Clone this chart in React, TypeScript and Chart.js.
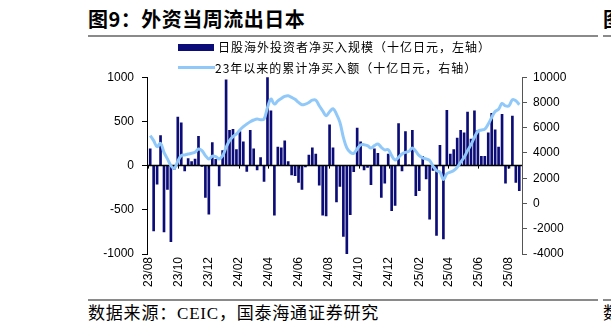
import React, { useEffect, useRef } from 'react';
import { Chart, registerables } from 'chart.js';

Chart.register(...registerables);

// Weekly net purchases of Japanese equities by foreign investors (bn JPY, left axis)
const netBuy = [
  190, -740, -210, 340, -750, -270, -860, -40, 550, 485, -60, 80, 45, 75, 330, -10, -360, -550, 260, 70, -230, 170,
  970, 400, 410, 180, 385, 270, -65, 400, 190, -50, 90, -180, 1000, 620, -560, 210, 200, 280, 45, -105, -115,
  -190, -270, -15, 120, 200, 130, -220, -560, -570, 460, 200, -410, -235, -800, -1010, -555, -70, 425, 270, -50, -20, -215,
  190, 140, -360, -200, 130, -510, -450, 475, -60, 385, 10, 400, -340, -285, 105, -150, -605, -55, -790, 230, -830, 625,
  130, 180, 310, 400, 370, 605, 300, 620, 400, 105, 105, 370, 590, 405, 210, 580, -200, -30, 560, -190, -285,
];

// Cumulative net purchases since 2023 (bn JPY, right axis)
const cumulative = [
  5370, 4975, 4500, 4765, 4055, 3530, 3000, 2790, 3345, 3790, 3845, 3920, 3975, 4055, 4320, 4185, 3790, 3530, 3740, 3715, 3530, 3790,
  4450, 4975, 5290, 5500, 5820, 6080, 6290, 6475, 6610, 6685, 6630, 6685, 7600, 8260, 7870, 8130, 8315, 8475, 8525, 8395, 8260,
  8000, 7815, 7870, 8000, 8185, 8185, 7735, 7340, 6950, 7260, 7500, 7080, 6420, 5240, 4400, 4055, 3975, 4320, 4635, 4660, 4580, 4400,
  4580, 4710, 4450, 4240, 4265, 3790, 3450, 3660, 3920, 4055, 4130, 4400, 4130, 3790, 3610, 3530, 3400, 2950, 2610, 2480, 1900, 2350,
  2480, 2610, 2870, 3265, 3660, 4185, 4660, 5240, 5710, 5820, 5895, 6290, 6815, 7290, 7470, 7920, 7735, 7735, 8210, 8130, 7815,
];

// First week (week ending date) of the weekly series
const firstWeekEnd = [2023, 8, 5];

// x-axis tick labels (yy/mm)
const xTickLabels = ['23/08', '23/10', '23/12', '24/02', '24/04', '24/06', '24/08', '24/10', '24/12', '25/02', '25/04', '25/06', '25/08'];

const leftTicks = { min: -1000, max: 1000, step: 500 };
const rightTicks = { min: -4000, max: 10000, step: 2000 };

const barLabel = '日股海外投资者净买入规模（十亿日元，左轴）';
const lineLabel = '23年以来的累计净买入额（十亿日元，右轴）';

const dayNum = (y: number, m: number, d: number) => Date.UTC(y, m - 1, d) / 86400000;
const startDay = dayNum(firstWeekEnd[0], firstWeekEnd[1], firstWeekEnd[2]);
const weekDays = netBuy.map((_, i) => startDay + 7 * i);
const tickDays = xTickLabels.map((s) => {
  const [yy, mm] = s.split('/').map(Number);
  return dayNum(2000 + yy, mm, 1);
});

const NAVY = '#0c0c78';
const LIGHT = '#90c9f9';
const FONT = "'Liberation Sans', Arial, sans-serif";
const CJK = "'Noto Sans CJK SC', 'Noto Sans', sans-serif";

const zeroLinePlugin = {
  id: 'zeroLine',
  afterDatasetDraw(chart: any, args: any) {
    if (args.meta.type !== 'bar') return;
    const { ctx, chartArea } = chart;
    const y = chart.scales.y.getPixelForValue(0);
    const xs = chart.scales.x;
    ctx.save();
    ctx.strokeStyle = '#000';
    ctx.lineWidth = 1.5;
    ctx.beginPath();
    ctx.moveTo(chartArea.left, y);
    ctx.lineTo(chartArea.right, y);
    ctx.stroke();
    ctx.lineWidth = 1;
    tickDays.forEach((d) => {
      const px = Math.round(xs.getPixelForValue(d)) + 0.5;
      ctx.beginPath();
      ctx.moveTo(px, y);
      ctx.lineTo(px, y + 3);
      ctx.stroke();
    });
    ctx.restore();
  },
};

function ChartCanvas() {
  const ref = useRef<HTMLCanvasElement | null>(null);
  useEffect(() => {
    if (!ref.current) return;
    const chart = new Chart(ref.current, {
      type: 'bar',
      data: {
        datasets: [
          {
            type: 'line',
            label: lineLabel,
            data: cumulative.map((v, i) => ({ x: weekDays[i], y: v })),
            yAxisID: 'y1',
            borderColor: LIGHT,
            backgroundColor: LIGHT,
            borderWidth: 3,
            pointRadius: 0,
            tension: 0.4,
            order: 0,
          } as any,
          {
            type: 'bar',
            label: barLabel,
            data: netBuy.map((v, i) => ({ x: weekDays[i], y: v })),
            yAxisID: 'y',
            backgroundColor: NAVY,
            borderWidth: 0,
            barThickness: 2,
            order: 1,
          } as any,
        ],
      },
      options: {
        animation: false,
        responsive: false,
        maintainAspectRatio: false,
        layout: { padding: { top: 0, left: 0, right: 0, bottom: 0 } },
        plugins: { legend: { display: false }, tooltip: { enabled: false } },
        scales: {
          x: {
            type: 'linear',
            min: startDay - 6.5,
            max: weekDays[weekDays.length - 1] + 5.5,
            offset: false,
            grid: { display: false, drawTicks: false },
            border: { display: false },
            afterBuildTicks: (s: any) => {
              s.ticks = tickDays.map((v) => ({ value: v }));
            },
            afterFit: (s: any) => {
              s.height = 44;
            },
            ticks: {
              autoSkip: false,
              minRotation: 90,
              maxRotation: 90,
              padding: 3,
              color: '#000',
              font: { family: FONT, size: 12 },
              callback: (_v: any, i: number) => xTickLabels[i],
            },
          } as any,
          y: {
            position: 'left',
            min: leftTicks.min,
            max: leftTicks.max,
            ticks: { stepSize: leftTicks.step, padding: 8, color: '#000', font: { family: FONT, size: 12 }, callback: (v: any) => String(v) },
            grid: { drawOnChartArea: false, tickLength: 5, color: '#000' },
            border: { color: '#000', width: 1 },
            afterFit: (s: any) => {
              s.width = 147;
            },
          } as any,
          y1: {
            position: 'right',
            min: rightTicks.min,
            max: rightTicks.max,
            ticks: { stepSize: rightTicks.step, padding: 6, color: '#000', font: { family: FONT, size: 12 }, callback: (v: any) => String(v) },
            grid: { drawOnChartArea: false, tickLength: 5, color: '#555' },
            border: { color: '#555', width: 1 },
            afterFit: (s: any) => {
              s.width = 89;
            },
          } as any,
        },
      },
      plugins: [zeroLinePlugin],
    });
    return () => chart.destroy();
  }, []);
  return <canvas ref={ref} width={611} height={236} style={{ position: 'absolute', left: 0, top: 62, width: 611, height: 236 }} />;
}

export default function App() {
  const abs = (s: React.CSSProperties): React.CSSProperties => ({ position: 'absolute', ...s });
  return (
    <div style={{ position: 'absolute', left: 0, top: 0, width: 611, height: 332, overflow: 'hidden', background: '#fff' }}>
      <div style={abs({ left: 88, top: 9, fontFamily: CJK, fontWeight: 700, fontSize: 20, lineHeight: '20px', letterSpacing: 0.5, color: '#000', whiteSpace: 'nowrap' })}>
        图9：外资当周流出日本
      </div>
      <div style={abs({ left: 88, top: 35, width: 510, height: 2, background: '#8a8a8a' })} />
      <div style={abs({ left: 603, top: 9, fontFamily: CJK, fontWeight: 700, fontSize: 20, lineHeight: '20px', color: '#000' })}>图</div>
      <div style={abs({ left: 603, top: 35, width: 20, height: 2, background: '#8a8a8a' })} />

      <ChartCanvas />

      <div style={abs({ left: 178, top: 44, width: 36, height: 7, background: NAVY })} />
      <div style={abs({ left: 218, top: 41, fontFamily: CJK, fontSize: 12, lineHeight: '12px', letterSpacing: 1, color: '#000', whiteSpace: 'nowrap' })}>
        {barLabel}
      </div>
      <div style={abs({ left: 178, top: 66, width: 37, height: 3, background: LIGHT })} />
      <div style={abs({ left: 215, top: 62, fontFamily: CJK, fontSize: 12, lineHeight: '12px', letterSpacing: 1, color: '#000', whiteSpace: 'nowrap' })}>
        {lineLabel}
      </div>

      <div style={abs({ left: 88, top: 299, width: 510, height: 2, background: '#8a8a8a' })} />
      <div style={abs({ left: 603, top: 299, width: 20, height: 2, background: '#8a8a8a' })} />
      <div style={abs({ left: 88, top: 305, fontFamily: "'Liberation Serif', 'Noto Sans CJK SC', serif", fontSize: 17, lineHeight: '17px', letterSpacing: 0.8, color: '#000', whiteSpace: 'nowrap' })}>
        数据来源：CEIC，国泰海通证券研究
      </div>
      <div style={abs({ left: 603, top: 305, fontFamily: "'Liberation Serif', 'Noto Sans CJK SC', serif", fontSize: 17, lineHeight: '17px', color: '#000' })}>数</div>
    </div>
  );
}
